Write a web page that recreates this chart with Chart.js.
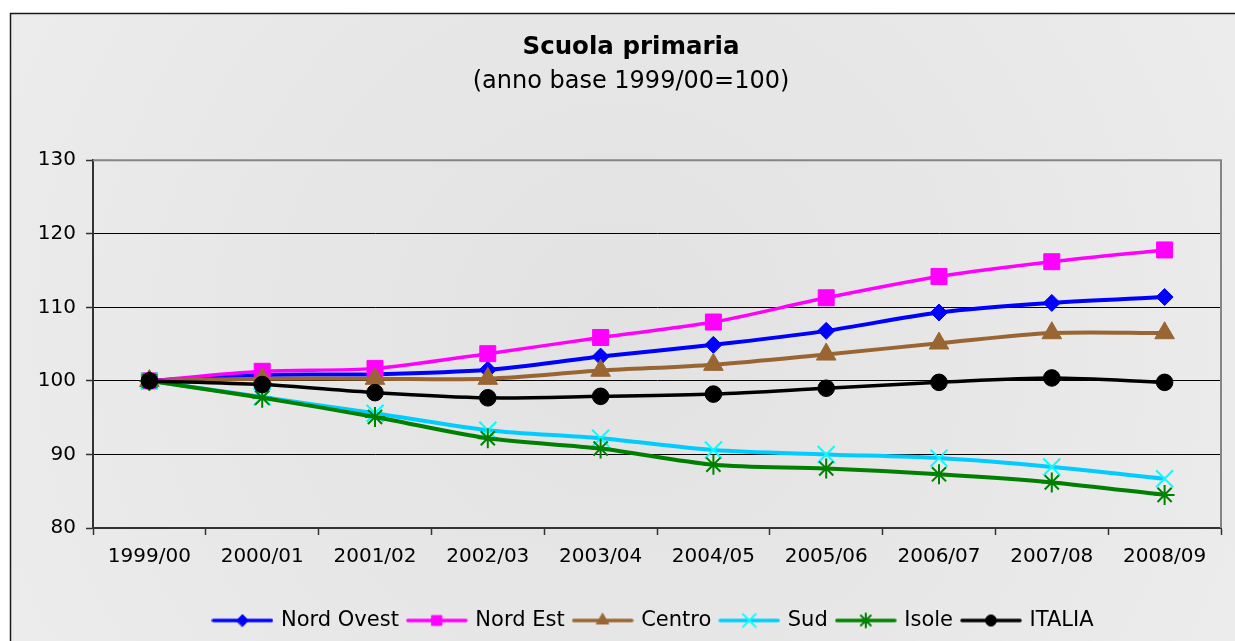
<!DOCTYPE html>
<html>
<head>
<meta charset="utf-8">
<title>Scuola primaria</title>
<script src="https://cdn.jsdelivr.net/npm/chart.js@4/dist/chart.umd.min.js"></script>
<style>
  html, body { margin: 0; padding: 0; background: #fff; }
  #wrap { position: relative; width: 1235px; height: 641px; }
</style>
</head>
<body>
<div id="wrap"><canvas id="chart" width="1235" height="641"></canvas></div>
<script>
// dati (anno base 1999/00 = 100)
const anni = ['1999/00', '2000/01', '2001/02', '2002/03', '2003/04', '2004/05', '2005/06', '2006/07', '2007/08', '2008/09'];
const nordOvest = [100, 100.8, 100.9, 101.5, 103.3, 104.9, 106.8, 109.3, 110.6, 111.4];
const nordEst = [100, 101.3, 101.7, 103.7, 105.9, 108.0, 111.3, 114.2, 116.2, 117.8];
const centro = [100, 100.3, 100.3, 100.3, 101.4, 102.2, 103.6, 105.1, 106.5, 106.5];
const sud = [100, 97.8, 95.6, 93.3, 92.2, 90.6, 90.0, 89.5, 88.3, 86.7];
const isole = [100, 97.7, 95.1, 92.2, 90.8, 88.6, 88.1, 87.3, 86.2, 84.5];
const italia = [100, 99.5, 98.4, 97.7, 97.9, 98.2, 99.0, 99.8, 100.4, 99.8];
const yTicks = [80, 90, 100, 110, 120, 130];

const FONT = "'DejaVu Sans', 'Liberation Sans', Arial, sans-serif";

// icona della legenda: linea + marcatore
function legendIcon(color, markerColor, style, radius, lineW, markerBorder) {
    const c = document.createElement('canvas');
    c.width = 62;
    c.height = 20;
    const ctx = c.getContext('2d');
    ctx.strokeStyle = color;
    ctx.lineWidth = lineW;
    ctx.lineCap = 'round';
    ctx.beginPath();
    ctx.moveTo(2, 10);
    ctx.lineTo(60, 10);
    ctx.stroke();
    ctx.fillStyle = markerColor;
    ctx.strokeStyle = markerColor;
    ctx.lineWidth = markerBorder;
    Chart.helpers.drawPoint(ctx, { pointStyle: style, radius: radius, rotation: 0, borderWidth: markerBorder }, 31, 10);
    return c;
}

const serie = [
    { label: 'Nord Ovest', data: nordOvest, color: '#0000ff', marker: '#0000ff', style: 'rectRot', r: 8.5, lw: 4, mb: 1, lr: 6 },
    { label: 'Nord Est', data: nordEst, color: '#ff00ff', marker: '#ff00ff', style: 'rect', r: 11.3, lw: 3.5, mb: 1, lr: 7 },
    { label: 'Centro', data: centro, color: '#996633', marker: '#996633', style: 'triangle', r: 11.3, lw: 4, mb: 1, lr: 7 },
    { label: 'Sud', data: sud, color: '#00ccff', marker: '#00ffff', style: 'crossRot', r: 12, lw: 4, mb: 2, lr: 9 },
    { label: 'Isole', data: isole, color: '#008000', marker: '#008000', style: 'star', r: 10, lw: 4, mb: 2, lr: 7 },
    { label: 'ITALIA', data: italia, color: '#000000', marker: '#000000', style: 'circle', r: 8.3, lw: 3.5, mb: 1, lr: 5.5 }
];

// sfondo e cornice
const sfondo = {
    id: 'sfondo',
    afterLayout(chart) {
        // la legenda nell'originale è spostata a destra
        if (chart.legend) {
            chart.legend.left = 80;
            chart.legend.width = chart.legend.right - 80;
        }
    },
    beforeDraw(chart) {
        const ctx = chart.ctx;
        ctx.save();
        ctx.fillStyle = '#ffffff';
        ctx.fillRect(0, 0, chart.width, chart.height);
        const g = ctx.createRadialGradient(620, 330, 20, 620, 330, 700);
        g.addColorStop(0, '#e2e2e2');
        g.addColorStop(1, '#ececec');
        ctx.fillStyle = g;
        ctx.fillRect(10, 13, chart.width, chart.height);
        ctx.strokeStyle = '#1a1a1a';
        ctx.lineWidth = 1.5;
        ctx.strokeRect(10.5, 13.5, chart.width + 20, chart.height + 20);
        ctx.restore();
    },
    beforeDatasetsDraw(chart) {
        const a = chart.chartArea;
        const ctx = chart.ctx;
        ctx.save();
        ctx.strokeStyle = '#858585';
        ctx.lineWidth = 2;
        ctx.beginPath();
        ctx.moveTo(a.left, a.top);
        ctx.lineTo(a.right, a.top);
        ctx.lineTo(a.right, a.bottom);
        ctx.stroke();
        ctx.restore();
    }
};

const ctx = document.getElementById('chart').getContext('2d');
const chart = new Chart(ctx, {
    type: 'line',
    data: {
        labels: anni,
        datasets: serie.map((s, i) => ({
            label: s.label,
            data: s.data,
            borderColor: s.color,
            backgroundColor: s.marker,
            borderWidth: s.lw,
            pointStyle: s.style,
            pointRadius: s.r,
            pointHoverRadius: s.r,
            pointBackgroundColor: s.marker,
            pointBorderColor: s.marker,
            pointBorderWidth: s.mb,
            tension: 0.3,
            fill: false,
            order: serie.length - 1 - i
        }))
    },
    options: {
        responsive: false,
        animation: false,
        devicePixelRatio: 1,
        layout: { padding: { top: 0, right: 7, bottom: 0, left: 34 } },
        plugins: {
            title: {
                display: true,
                text: 'Scuola primaria',
                color: '#000',
                font: { family: FONT, size: 24.5, weight: 'bold' },
                padding: { top: 33, bottom: 0 }
            },
            subtitle: {
                display: true,
                text: '(anno base 1999/00=100)',
                color: '#000',
                font: { family: FONT, size: 24, weight: 'normal' },
                padding: { top: 5, bottom: 64 }
            },
            legend: {
                position: 'bottom',
                labels: {
                    usePointStyle: true,
                    pointStyleWidth: 56,
                    padding: 10,
                    color: '#000',
                    font: { family: FONT, size: 21 },
                    generateLabels(chart) {
                        return chart.data.datasets.map((d, i) => ({
                            text: d.label,
                            datasetIndex: i,
                            pointStyle: legendIcon(serie[i].color, serie[i].marker, serie[i].style, serie[i].lr, 3.5, serie[i].mb),
                            fillStyle: serie[i].color,
                            strokeStyle: serie[i].color,
                            lineWidth: 0,
                            hidden: !chart.isDatasetVisible(i),
                            fontColor: '#000'
                        }));
                    }
                }
            },
            tooltip: { enabled: false }
        },
        scales: {
            x: {
                offset: true,
                grid: { offset: true, drawOnChartArea: false, tickLength: 7, tickColor: '#333', tickWidth: 1.5 },
                border: { color: '#333', width: 2 },
                ticks: { color: '#000', font: { family: FONT, size: 20 }, padding: 10, maxRotation: 0, autoSkip: false },
                afterFit(scale) { scale.height = 72; }
            },
            y: {
                min: 80,
                max: 130,
                afterBuildTicks(scale) { scale.ticks = yTicks.map(v => ({ value: v })); },
                grid: { color: '#000', lineWidth: 1, tickLength: 7, tickColor: '#333', tickWidth: 1.5 },
                border: { color: '#333', width: 2 },
                ticks: { color: '#000', font: { family: FONT, size: 20 }, padding: 10 },
                afterFit(scale) { scale.width = 59; }
            }
        }
    },
    plugins: [sfondo]
});
</script>
</body>
</html>
